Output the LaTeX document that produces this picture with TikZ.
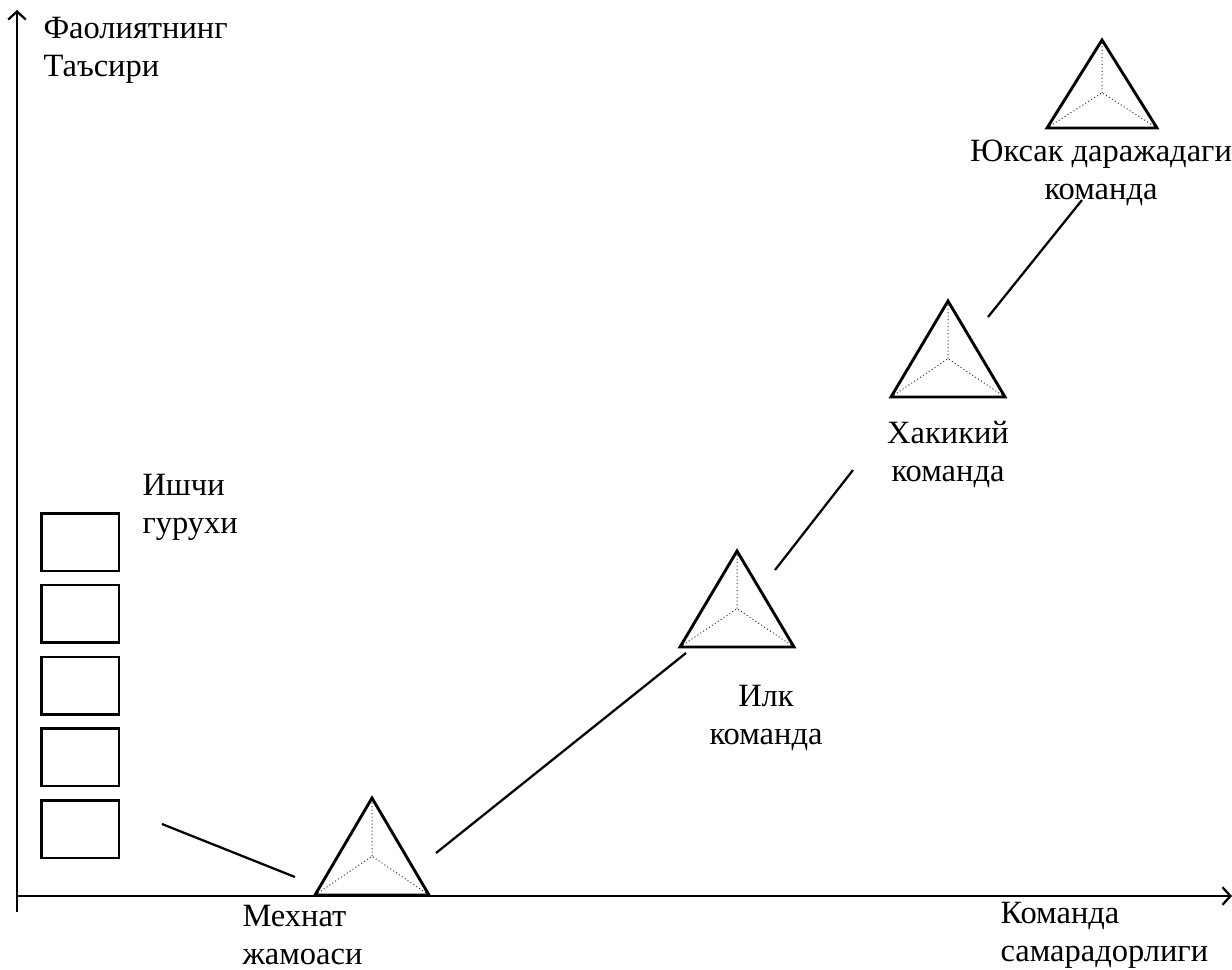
\documentclass[tikz,border=0pt]{standalone}
\usepackage{fontspec}
\setmainfont{Liberation Serif}
\usetikzlibrary{calc,arrows.meta}
\usetikzlibrary{positioning}

\begin{document}
\begin{tikzpicture}[
    x=0.4pt, y=-0.4pt,
    label style/.style={font=\fontsize{13pt}{15pt}\selectfont, inner sep=0pt, align=left, anchor=base west},
    mid label/.style={label style, align=center, anchor=base},
    box style/.style={draw, line width=1pt, minimum width=31pt, minimum height=23pt, inner sep=0pt, anchor=north west},
    team style/.style={draw, line width=1.15pt, line join=miter},
    inner style/.style={draw, densely dotted, line width=0.4pt, black!80},
    link style/.style={draw, line width=0.9pt},
    axis style/.style={draw, line width=0.9pt, -{Straight Barb[length=3.2pt,width=7pt]}}
]

% SAME BOUNDING BOX
\path[use as bounding box] (0,0) rectangle (1232,969);

% axes
\coordinate (origin) at (17,896);
\coordinate (ybottom) at (17,912);
\coordinate (ytop) at (17,10);
\coordinate (xend) at (1232,896);
\draw[axis style] (ybottom) -- (ytop);
\draw[axis style] (origin) -- (xend);

% (labels sit on their last line)
\node[label style] (yaxis label) at (43,76) {Фаолиятнинг\\Таъсири};
\node[label style] (xaxis label) at (1000,961) {Команда\\самарадорлиги};

% working groups
\foreach \i in {1,...,5}
    \node[box style] (box\i) at (40, {512+71.8*(\i-1)}) {};
\node[label style] (group label) at (142,533) {Ишчи\\гурухи};

% teams
\foreach \name/\ax/\ay/\hw/\h in {mehnat/372/798/57/97, ilk/737/551/57/96,
        haqiqiy/948/301/57/96, yuksak/1102/40/55/88} {
    \coordinate (\name-top) at (\ax,\ay);
    \coordinate (\name-left) at ({\ax-\hw},{\ay+\h});
    \coordinate (\name-right) at ({\ax+\hw},{\ay+\h});
    \coordinate (\name-mid) at ({\ax},{\ay+0.6*\h});
    \draw[inner style] (\name-left) -- (\name-mid) -- (\name-right) (\name-mid) -- (\name-top);
    \draw[team style] (\name-top) -- (\name-left) -- (\name-right) -- cycle;
}

\node[label style] (mehnat label) at (242,964) {Мехнат\\жамоаси};
\node[mid label] (ilk label) at (766,744) {Илк\\команда};
\node[mid label] (haqiqiy label) at (948,481) {Хакикий\\команда};
\node[mid label] (yuksak label) at (1101,199) {Юксак даражадаги\\команда};

% links
\coordinate (link1a) at (162,824);
\coordinate (link1b) at (295,877);
\coordinate (link2a) at (436,853);
\coordinate (link2b) at (686,653);
\coordinate (link3a) at (775,570);
\coordinate (link3b) at (853,470);
\coordinate (link4a) at (988,317);
\coordinate (link4b) at (1082,200);
\draw[link style] (link1a) -- (link1b);
\draw[link style] (link2a) -- (link2b);
\draw[link style] (link3a) -- (link3b);
\draw[link style] (link4a) -- (link4b);

\end{tikzpicture}
\end{document}
